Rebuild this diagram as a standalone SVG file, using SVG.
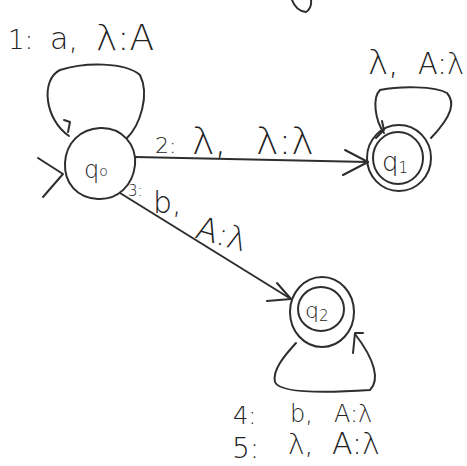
<svg xmlns="http://www.w3.org/2000/svg" width="467" height="466" viewBox="0 0 467 466">
<style>
.s{fill:none;stroke:#2e2e2e;stroke-width:2;stroke-linecap:round;stroke-linejoin:round}
.t{font-family:"DejaVu Sans",sans-serif;font-weight:200;fill:#222}
</style>
<rect width="467" height="466" fill="#fff"/>
<path class="s" d="M292 0 Q296 11 306 12 Q312 8 311 0"/>
<g id="connectors">
  <path class="s" d="M69 136 C45 120 40 80 60 70 C85 62 125 62 140 75 C150 95 140 125 127 138"/>
  <path class="s" d="M64 120 L70 122 L68 132"/>
  <path class="s" d="M38 158 L63 174 L43 197"/>
  <path class="s" d="M135 157 L368 162"/>
  <path class="s" d="M345 150 L368 162 L343 175"/>
  <path class="s" d="M120 193 L291 299"/>
  <path class="s" d="M277 283 L291 299 L267 301"/>
  <path class="s" d="M384 133 C375 120 372 98 380 90 C400 86 435 86 447 93 C455 102 453 115 431 138"/>
  <path class="s" d="M382 121 L384 130 L376 138"/>
  <path class="s" d="M296 343 C285 355 272 370 275 382 C280 395 340 392 370 390 C380 380 375 360 355 334"/>
  <path class="s" d="M353 353 L355 333 L363 333"/>
</g>
<g id="q0">
  <path class="s" d="M100 128 C122 127 137 145 135 165 C133 185 118 200 98 199 C77 198 64 183 65 163 C66 143 80 129 100 128 Z"/>
  <text class="t" x="84" y="178" font-size="24">q<tspan font-size="14" dy="-2">o</tspan></text>
</g>
<g id="q1">
  <ellipse class="s" cx="399" cy="158" rx="32" ry="33"/>
  <ellipse class="s" cx="398" cy="158" rx="25" ry="26"/>
  <text class="t" x="382" y="171" font-size="26">q<tspan font-size="15" dy="2">1</tspan></text>
</g>
<g id="q2">
  <ellipse class="s" cx="322" cy="312" rx="32" ry="35"/>
  <ellipse class="s" cx="321" cy="309" rx="23" ry="22"/>
  <text class="t" x="305" y="318" font-size="22">q<tspan font-size="15" dy="3">2</tspan></text>
</g>
<g id="labels">
  <text class="t" x="8" y="49" font-size="26">1:</text>
  <text class="t" x="50" y="49" font-size="30">a,</text>
  <text class="t" x="96" y="50" font-size="36">λ:A</text>
  <text class="t" x="368" y="74" font-size="34">λ,</text>
  <text class="t" x="418" y="74" font-size="30" textLength="46" lengthAdjust="spacingAndGlyphs">A:λ</text>
  <text class="t" x="155" y="153" font-size="22">2:</text>
  <text class="t" x="192" y="154" font-size="38">λ,</text>
  <text class="t" x="256" y="154" font-size="38">λ:λ</text>
  <text class="t" x="128" y="196" font-size="15">3:</text>
  <text class="t" x="153" y="213" font-size="30">b,</text>
  <text class="t" x="196" y="246" font-size="32" transform="rotate(16 225 235)">A:λ</text>
  <text class="t" x="233" y="424" font-size="24">4:</text>
  <text class="t" x="290" y="422" font-size="24">b,</text>
  <text class="t" x="334" y="422" font-size="24">A:λ</text>
  <text class="t" x="232" y="458" font-size="28">5:</text>
  <text class="t" x="288" y="454" font-size="28">λ,</text>
  <text class="t" x="332" y="454" font-size="30">A:λ</text>
</g>
</svg>
